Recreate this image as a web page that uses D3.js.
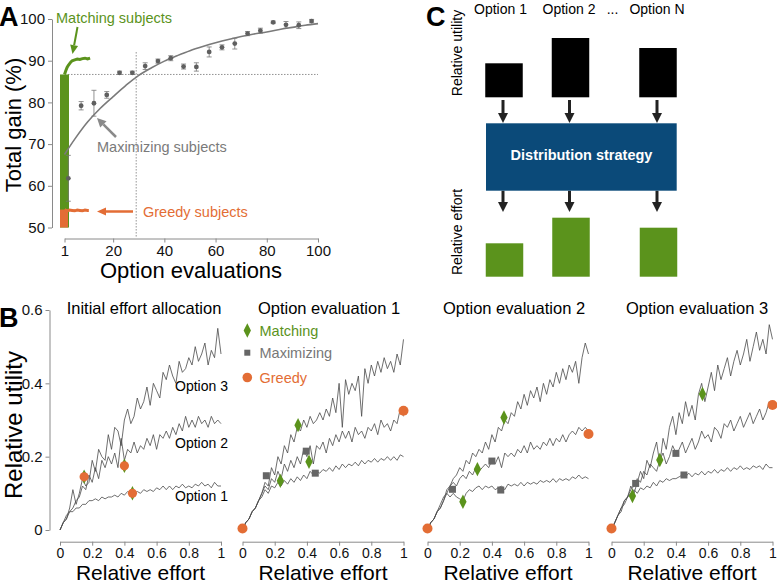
<!DOCTYPE html>
<html><head><meta charset="utf-8">
<script src="https://cdn.jsdelivr.net/npm/d3@7"></script>
<style>
body{margin:0;background:#fff;}
svg{display:block;font-family:"Liberation Sans",Arial,Helvetica,sans-serif;}
</style></head>
<body>
<svg id="fig" width="777" height="583"></svg>
<script>
// ---------------- Panel A data ----------------
const gainTicksY = [50,60,70,80,90,100];
const gainTicksX = [1,20,40,60,80,100];
const maxDotX = [2.5,7.5,12.5,17.5,22.5,27.5,32.5,37.5,42.5,47.5,52.5,57.5,62.5,67.5,72.5,77.5,82.5,87.5,92.5,97.5];
const maxDotY = [61.8,79.2,79.8,81.8,87.1,87.1,88.7,89.9,90.6,88.6,88.5,92.1,93.2,94.1,96.5,97.2,99.2,98.6,98.5,99.5];
const maxDotErr = [5.5,1.0,3.1,0.8,0.4,0.4,0.8,0.5,0.6,0.6,1.0,1.2,0.6,1.3,0.5,0.6,0.3,0.8,0.8,0.4];
const maxCurveX = [1,5,10,15,20,25,30,35,40,45,50,55,60,65,70,75,80,85,90,95,100];
const maxCurveY = [67.5,71.2,75.3,78.6,81.4,84.1,86.5,88.3,89.9,91.2,92.4,93.4,94.3,95.1,95.8,96.4,96.9,97.5,98.0,98.5,98.9];
const matchTraceX = [1,1.5,2,2.5,3,3.5,4,5,6,7,8,9,10,11];
const matchTraceY = [86.7,87.6,88.4,88.9,89.3,89.7,90.0,90.2,90.4,90.3,90.5,90.6,90.4,90.6];
const greedyTraceX = [1,2,3,4,5,6,7,8,9,10,10.5];
const greedyTraceY = [54.3,54.0,54.2,54.1,54.0,54.2,54.1,54.0,54.2,54.1,54.1];
const matchBand = [50,86.7];
const greedyBand = [50,54.3];
const thresholdGain = 86.7;
const thresholdEvals = 29;

// ---------------- Panel B data ----------------
const effort = [0,0.02,0.04,0.06,0.08,0.10,0.12,0.14,0.16,0.18,0.20,0.22,0.24,0.26,0.28,0.30,0.32,0.34,0.36,0.38,0.40,0.42,0.44,0.46,0.48,0.50,0.52,0.54,0.56,0.58,0.60,0.62,0.64,0.66,0.68,0.70,0.72,0.74,0.76,0.78,0.80,0.82,0.84,0.86,0.88,0.90,0.92,0.94,0.96,0.98,1.00];
const utilTicks = [0,0.2,0.4,0.6];
const effortTicks = [0,0.2,0.4,0.6,0.8,1];
const panelTitles = ["Initial effort allocation","Option evaluation 1","Option evaluation 2","Option evaluation 3"];
const optionNames = ["Option 1","Option 2","Option 3"];

const initOpt1 = [0,.02,.04,.05,.05,.06,.06,.07,.07,.08,.08,.085,.08,.09,.085,.09,.09,.095,.09,.10,.095,.105,.10,.10,.105,.10,.11,.105,.11,.105,.115,.11,.12,.11,.12,.11,.12,.115,.125,.115,.12,.115,.125,.12,.13,.12,.125,.115,.13,.12,.12];
const initOpt2 = [0,.02,.03,.05,.06,.08,.09,.12,.11,.15,.13,.17,.14,.19,.17,.20,.18,.21,.17,.25,.19,.22,.21,.24,.21,.23,.22,.25,.23,.26,.22,.26,.25,.27,.25,.28,.26,.29,.27,.31,.28,.30,.28,.31,.29,.30,.28,.31,.29,.30,.29];
const initOpt3 = [0,.02,.03,.06,.11,.07,.10,.14,.12,.13,.19,.16,.22,.20,.19,.26,.22,.28,.27,.23,.30,.33,.29,.31,.36,.33,.35,.39,.34,.40,.38,.36,.43,.41,.45,.42,.40,.46,.43,.44,.47,.45,.50,.46,.48,.51,.45,.49,.47,.55,.48];

const ev1Opt1 = [0,.02,.03,.05,.06,.08,.09,.11,.10,.12,.115,.13,.12,.135,.125,.14,.13,.145,.135,.15,.14,.16,.15,.16,.155,.165,.16,.17,.16,.175,.165,.18,.17,.18,.175,.185,.175,.19,.18,.19,.185,.195,.185,.195,.19,.20,.19,.20,.19,.205,.20];
const ev1Opt2 = [0,.02,.03,.05,.06,.08,.10,.12,.11,.14,.13,.16,.14,.18,.16,.19,.17,.20,.18,.22,.20,.23,.18,.23,.22,.24,.21,.25,.23,.26,.24,.27,.25,.27,.24,.28,.26,.27,.25,.28,.27,.29,.26,.30,.28,.29,.27,.30,.29,.33,.31];
const ev1Opt3 = [0,.02,.03,.05,.06,.08,.10,.13,.12,.17,.15,.20,.18,.23,.21,.26,.24,.28,.27,.30,.28,.31,.29,.30,.32,.30,.33,.31,.36,.32,.40,.28,.41,.37,.40,.38,.42,.31,.44,.40,.45,.42,.46,.43,.47,.44,.46,.43,.48,.45,.52];

const ev2Opt1 = [0,.02,.03,.05,.06,.08,.10,.09,.10,.09,.085,.08,.10,.11,.105,.115,.12,.11,.12,.115,.12,.11,.115,.12,.11,.125,.12,.125,.12,.13,.12,.13,.125,.13,.125,.135,.13,.135,.13,.14,.13,.14,.135,.14,.135,.145,.14,.15,.14,.145,.14];
const ev2Opt2 = [0,.02,.03,.05,.07,.09,.10,.12,.13,.12,.14,.15,.14,.16,.15,.17,.16,.17,.18,.17,.19,.18,.20,.17,.21,.20,.21,.20,.22,.21,.23,.21,.24,.22,.23,.22,.24,.23,.25,.23,.25,.24,.26,.24,.26,.27,.26,.28,.27,.28,.27];
const ev2Opt3 = [0,.02,.03,.05,.06,.08,.11,.12,.14,.15,.17,.16,.19,.18,.21,.20,.22,.21,.24,.22,.26,.24,.28,.27,.30,.29,.32,.31,.35,.33,.37,.34,.38,.36,.39,.35,.40,.37,.41,.39,.43,.40,.44,.41,.45,.43,.46,.40,.47,.51,.48];

const ev3Opt1 = [0,.02,.04,.06,.07,.09,.10,.11,.10,.115,.11,.12,.115,.13,.12,.135,.13,.14,.135,.14,.14,.145,.15,.145,.155,.145,.155,.15,.16,.15,.16,.155,.165,.155,.165,.16,.17,.16,.17,.165,.175,.165,.17,.165,.175,.17,.175,.165,.18,.17,.17];
const ev3Opt2 = [0,.02,.04,.06,.08,.09,.11,.12,.14,.13,.16,.15,.18,.17,.16,.19,.21,.18,.20,.23,.21,.22,.24,.21,.23,.25,.22,.24,.27,.25,.26,.24,.28,.27,.25,.29,.28,.30,.27,.29,.31,.28,.30,.32,.29,.31,.33,.30,.32,.35,.34];
const ev3Opt3 = [0,.02,.04,.05,.08,.09,.12,.10,.13,.16,.14,.19,.17,.21,.24,.18,.25,.22,.28,.31,.26,.32,.29,.35,.31,.34,.30,.37,.40,.35,.39,.43,.38,.45,.41,.44,.47,.42,.46,.49,.45,.48,.52,.46,.50,.54,.49,.52,.48,.56,.52];

const panelCurves = [[initOpt1,initOpt2,initOpt3],[ev1Opt1,ev1Opt2,ev1Opt3],[ev2Opt1,ev2Opt2,ev2Opt3],[ev3Opt1,ev3Opt2,ev3Opt3]];

const matchingPts = [
  [[0.15,0.145],[0.40,0.175],[0.45,0.10]],
  [[0.235,0.134],[0.345,0.286],[0.413,0.186]],
  [[0.22,0.077],[0.31,0.166],[0.475,0.307]],
  [[0.13,0.093],[0.30,0.191],[0.565,0.371]]
];
const maximizingPts = [
  [[0.15,0.145],[0.40,0.175],[0.45,0.10]],
  [[0.148,0.148],[0.396,0.215],[0.452,0.155]],
  [[0.155,0.111],[0.40,0.188],[0.455,0.109]],
  [[0.15,0.127],[0.40,0.209],[0.45,0.15]]
];
const greedyPts = [
  [[0.15,0.145],[0.40,0.175],[0.45,0.10]],
  [[0,0.004],[1,0.325]],
  [[0,0.004],[1,0.262]],
  [[0,0.004],[1,0.341]]
];
const legendNames = ["Matching","Maximizing","Greedy"];

// ---------------- Panel C data ----------------
const cOptions = ["Option 1","Option 2","Option N"];
const cUtility = [0.34,0.593,0.493];
const cEffort = [0.334,0.59,0.49];

// ---------------- styles ----------------
const GREEN = "#5b931c", ORANGE = "#e36d35", BLUE = "#0b4a79", AXIS = "#8a8a8a";
const svg = d3.select("#fig");

function styleAxis(g, fs){
  g.select(".domain").attr("stroke",AXIS).attr("stroke-width",1);
  g.selectAll(".tick line").attr("stroke",AXIS).attr("stroke-width",1);
  g.selectAll(".tick text").attr("fill","#111").attr("font-size",fs).attr("font-family","Liberation Sans, Arial, sans-serif");
}

// ================= Panel A =================
const xA = d3.scaleLinear().domain([1,100]).range([64.5,318]);
const yA = d3.scaleLinear().domain([50,100]).range([227.5,19]);
const gA = svg.append("g");

gA.append("g").attr("transform","translate(52,0)")
  .call(d3.axisLeft(yA).tickValues(gainTicksY).tickSize(4).tickSizeOuter(0).tickPadding(3))
  .call(g=>styleAxis(g,15));
gA.append("g").attr("transform","translate(0,238.5)")
  .call(d3.axisBottom(xA).tickValues(gainTicksX).tickSize(4).tickSizeOuter(0).tickPadding(3))
  .call(g=>styleAxis(g,15));

// threshold dotted lines
gA.append("line").attr("x1",xA(2.5)).attr("x2",xA(100)).attr("y1",yA(thresholdGain)).attr("y2",yA(thresholdGain))
  .attr("stroke","#333").attr("stroke-width",0.8).attr("stroke-dasharray","1,2");
gA.append("line").attr("x1",xA(thresholdEvals)).attr("x2",xA(thresholdEvals)).attr("y1",yA(92)).attr("y2",238)
  .attr("stroke","#333").attr("stroke-width",0.8).attr("stroke-dasharray","1,2");

// bands
gA.append("rect").attr("x",xA(1)-4.5).attr("width",9).attr("y",yA(matchBand[1])).attr("height",yA(matchBand[0])-yA(matchBand[1])).attr("fill",GREEN);
gA.append("rect").attr("x",xA(1)-4.5).attr("width",8).attr("y",yA(greedyBand[1])).attr("height",yA(greedyBand[0])-yA(greedyBand[1])).attr("fill",ORANGE);

// traces
const lineA = d3.line().x(d=>xA(d[0])).y(d=>yA(d[1]));
gA.append("path").datum(d3.zip(matchTraceX,matchTraceY)).attr("d",lineA).attr("fill","none").attr("stroke",GREEN).attr("stroke-width",3);
gA.append("path").datum(d3.zip(greedyTraceX,greedyTraceY)).attr("d",lineA).attr("fill","none").attr("stroke",ORANGE).attr("stroke-width",3);

// maximizing fit curve
gA.append("path").datum(d3.zip(maxCurveX,maxCurveY)).attr("d",d3.line().curve(d3.curveCatmullRom).x(d=>xA(d[0])).y(d=>yA(d[1])))
  .attr("fill","none").attr("stroke","#7a7a7a").attr("stroke-width",1.6);

// error bars and dots
const dotsA = gA.append("g");
maxDotX.forEach((x,i)=>{
  const y=maxDotY[i], e=maxDotErr[i];
  dotsA.append("line").attr("x1",xA(x)).attr("x2",xA(x)).attr("y1",yA(y-e)).attr("y2",yA(y+e)).attr("stroke","#777").attr("stroke-width",0.8);
  [y-e,y+e].forEach(v=>dotsA.append("line").attr("x1",xA(x)-2.5).attr("x2",xA(x)+2.5).attr("y1",yA(v)).attr("y2",yA(v)).attr("stroke","#777").attr("stroke-width",0.8));
  dotsA.append("circle").attr("cx",xA(x)).attr("cy",yA(y)).attr("r",2.4).attr("fill","#5f5f5f");
});

// annotations
function arrow(g,x1,y1,x2,y2,color,w,hl,hw){
  const a=Math.atan2(y2-y1,x2-x1);
  const bx=x2-hl*Math.cos(a), by=y2-hl*Math.sin(a);
  g.append("line").attr("x1",x1).attr("y1",y1).attr("x2",bx).attr("y2",by).attr("stroke",color).attr("stroke-width",w);
  const px=-Math.sin(a)*hw/2, py=Math.cos(a)*hw/2;
  g.append("path").attr("d",`M${x2},${y2}L${bx+px},${by+py}L${bx-px},${by-py}Z`).attr("fill",color);
}
gA.append("text").attr("x",56).attr("y",23).attr("fill",GREEN).attr("font-size",14.5).text("Matching subjects");
arrow(gA,77.5,27,72.5,54,GREEN,2,9,8);
gA.append("text").attr("x",97).attr("y",152).attr("fill","#7a7a7a").attr("font-size",14.5).text("Maximizing subjects");
arrow(gA,116,137,97,118,"#8a8a8a",2.5,9,9);
gA.append("text").attr("x",143).attr("y",217).attr("fill",ORANGE).attr("font-size",14.5).text("Greedy subjects");
arrow(gA,133,211.5,97,211.5,ORANGE,2.5,9,8);

svg.append("text").attr("x",-1).attr("y",26).attr("font-size",27).attr("font-weight","bold").text("A");
svg.append("text").attr("transform","translate(20.5,125) rotate(-90)").attr("text-anchor","middle").attr("font-size",22).text("Total gain (%)");
svg.append("text").attr("x",191).attr("y",278).attr("text-anchor","middle").attr("font-size",22).text("Option evaluations");

// ================= Panel C =================
const gC = svg.append("g");
const xC = d3.scaleOrdinal().domain(cOptions).range([504,570.5,658]);
const hU = d3.scaleLinear().domain([0,1]).range([97.3,-2.7]);
const hE = d3.scaleLinear().domain([0,1]).range([276.7,176.7]);
const barW = 37.5;
const labelShift = [-3.5,-1.5,-1];
cOptions.forEach((o,i)=>{
  gC.append("rect").attr("x",xC(o)-barW/2).attr("width",barW).attr("y",hU(cUtility[i])).attr("height",hU(0)-hU(cUtility[i])).attr("fill","#000");
  gC.append("rect").attr("x",xC(o)-barW/2+0.5).attr("width",barW).attr("y",hE(cEffort[i])).attr("height",hE(0)-hE(cEffort[i])).attr("fill",GREEN);
  arrow(gC,xC(o)-1,100,xC(o)-1,123,"#222",3,10,10);
  arrow(gC,xC(o)-1,190.7,xC(o)-1,212,"#222",3,10,10);
  gC.append("text").attr("x",xC(o)+labelShift[i]).attr("y",14).attr("text-anchor","middle").attr("font-size",14).text(o);
});
gC.append("text").attr("x",612.5).attr("y",14).attr("text-anchor","middle").attr("font-size",14).text("...");
gC.append("rect").attr("x",486).attr("y",123.3).attr("width",190.7).attr("height",67.4).attr("fill",BLUE);
gC.append("text").attr("x",581.5).attr("y",159.5).attr("text-anchor","middle").attr("font-size",14.5).attr("font-weight","bold").attr("fill","#fff").text("Distribution strategy");
gC.append("text").attr("transform","translate(461.5,53) rotate(-90)").attr("text-anchor","middle").attr("font-size",14).text("Relative utility");
gC.append("text").attr("transform","translate(461.5,232) rotate(-90)").attr("text-anchor","middle").attr("font-size",14).text("Relative effort");
svg.append("text").attr("x",426).attr("y",26).attr("font-size",27).attr("font-weight","bold").text("C");

// ================= Panel B =================
const yB = d3.scaleLinear().domain([0,0.6]).range([530,310]);
const x0s = [60,242.5,427.5,611.5];
const titleCx = [144,329,514,697];
panelTitles.forEach((t,p)=>{
  const xB = d3.scaleLinear().domain([0,1]).range([x0s[p],x0s[p]+161]);
  const g = svg.append("g");
  g.append("g").attr("transform","translate(0,541.7)")
    .call(d3.axisBottom(xB).tickValues(effortTicks).tickFormat(d3.format("~g")).tickSize(4).tickSizeOuter(0).tickPadding(2.5))
    .call(a=>styleAxis(a,14));
  if(p===0){
    g.append("g").attr("transform","translate(49.5,0)")
      .call(d3.axisLeft(yB).tickValues(utilTicks).tickFormat(d3.format("~g")).tickSize(4).tickSizeOuter(0).tickPadding(3))
      .call(a=>styleAxis(a,15));
  }
  const ln = d3.line().x((d,i)=>xB(effort[i])).y(d=>yB(d));
  panelCurves[p].forEach(c=>{
    g.append("path").datum(c).attr("d",ln).attr("fill","none").attr("stroke","#4a4a4a").attr("stroke-width",0.8);
  });
  // markers
  const dia = d3.symbol().type(d3.symbolDiamond).size(42);
  if(p>0) maximizingPts[p].forEach(d=>g.append("rect").attr("x",xB(d[0])-3.5).attr("y",yB(d[1])-3.5).attr("width",7).attr("height",7).attr("fill","#666"));
  matchingPts[p].forEach(d=>g.append("path").attr("d",dia).attr("transform",`translate(${xB(d[0])},${yB(d[1])}) scale(1.05,1.2)`).attr("fill",GREEN));
  greedyPts[p].forEach(d=>g.append("circle").attr("cx",xB(d[0])).attr("cy",yB(d[1])).attr("r",p===0?4.6:5).attr("fill",ORANGE));
  g.append("text").attr("x",titleCx[p]).attr("y",314).attr("text-anchor","middle").attr("font-size",16.5).text(t);
  g.append("text").attr("x",xB(0.5)).attr("y",579.5).attr("text-anchor","middle").attr("font-size",21).text("Relative effort");
});
// option labels panel 1
const optLabelY = [0.08,0.225,0.38];
optionNames.forEach((o,i)=>{
  svg.append("text").attr("x",175).attr("y",yB(optLabelY[i])).attr("font-size",14).text(o);
});
// legend
const legY = [330.5,352.7,377.5];
const legCol = [GREEN,"#777","#e36d35"];
legendNames.forEach((n,i)=>{
  const cx=247.3, cy=legY[i];
  if(i===0) svg.append("path").attr("d",d3.symbol().type(d3.symbolDiamond).size(42)()).attr("transform",`translate(${cx},${cy}) scale(1.05,1.2)`).attr("fill",GREEN);
  if(i===1) svg.append("rect").attr("x",cx-3).attr("y",cy-3).attr("width",6).attr("height",6).attr("fill","#666");
  if(i===2) svg.append("circle").attr("cx",cx).attr("cy",cy).attr("r",4.8).attr("fill",ORANGE);
  svg.append("text").attr("x",259.5).attr("y",cy+5).attr("font-size",14.5).attr("fill",legCol[i]).text(n);
});
svg.append("text").attr("x",-1).attr("y",327).attr("font-size",27).attr("font-weight","bold").text("B");
svg.append("text").attr("transform","translate(22,425) rotate(-90)").attr("text-anchor","middle").attr("font-size",24).text("Relative utility");
</script>
</body></html>
